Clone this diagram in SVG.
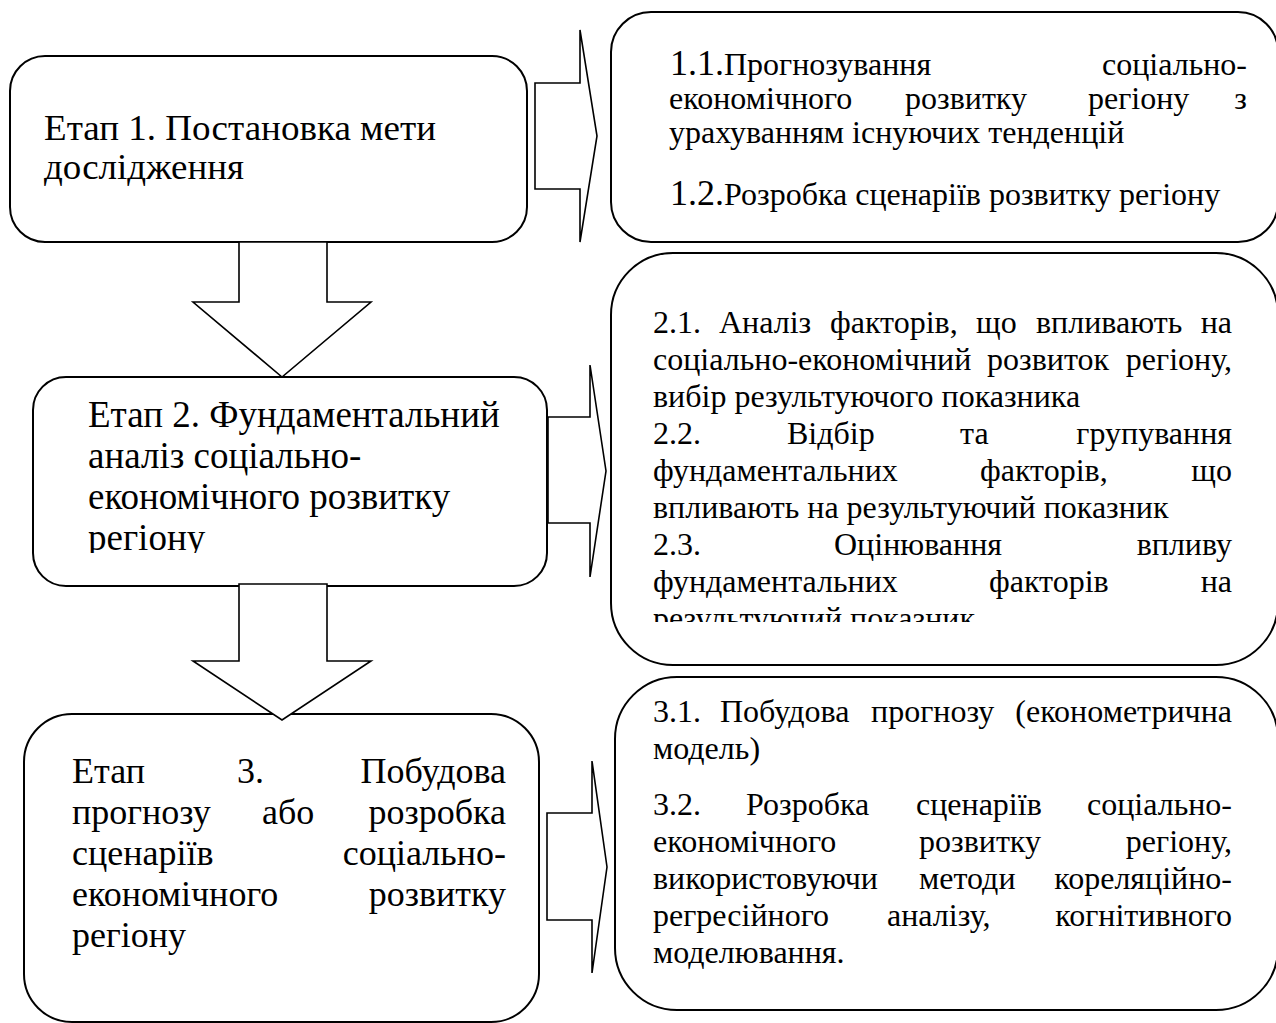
<svg xmlns="http://www.w3.org/2000/svg" width="1276" height="1023" viewBox="0 0 1276 1023">
<style>
.box{fill:#fff;stroke:#000;stroke-width:2}
.arr{fill:#fff;stroke:#000;stroke-width:1.6;stroke-linejoin:miter}
text{font-family:"Liberation Serif","Times New Roman",serif;fill:#000}
.l{font-size:36px}
.l2{font-size:37px}
.r{font-size:32px}
.r1{font-size:32px}
.pre{font-size:36px}
.e{text-anchor:end}
</style>
<defs>
<clipPath id="clipL2"><rect x="33" y="378" width="514" height="175"/></clipPath>
<clipPath id="clipR2"><rect x="611" y="254" width="665" height="368"/></clipPath>
</defs>
<rect width="1276" height="1023" fill="#fff"/>

<g id="stage1">
<rect class="box" x="10" y="56" width="517" height="186" rx="35" ry="35"/>
<text class="l" x="44" y="140" textLength="392" lengthAdjust="spacingAndGlyphs">Етап 1. Постановка мети</text>
<text class="l" x="44" y="179" textLength="200" lengthAdjust="spacingAndGlyphs">дослідження</text>
</g>

<g id="details1">
<rect class="box" x="611" y="12" width="667" height="230" rx="40" ry="40"/>
<text class="r1" x="670" y="75"><tspan class="pre">1.1.</tspan>Прогнозування</text>
<text class="r1 e" x="1247" y="75">соціально-</text>
<text class="r1" x="669" y="109">економічного</text>
<text class="r1" x="905" y="109">розвитку</text>
<text class="r1" x="1088" y="109">регіону</text>
<text class="r1 e" x="1247" y="109">з</text>
<text class="r1" x="669" y="143">урахуванням існуючих тенденцій</text>
<text class="r1" x="670" y="205"><tspan class="pre">1.2.</tspan>Розробка сценаріїв розвитку регіону</text>
</g>

<g id="stage2">
<rect class="box" x="33" y="377" width="514" height="209" rx="33" ry="33"/>
<g clip-path="url(#clipL2)">
<text class="l2" x="88" y="427">Етап 2. Фундаментальний</text>
<text class="l2" x="88" y="468">аналіз соціально-</text>
<text class="l2" x="88" y="509">економічного розвитку</text>
<text class="l2" x="88" y="550">регіону</text>
</g>
</g>

<g id="details2">
<rect class="box" x="611" y="253" width="667" height="412" rx="62" ry="62"/>
<g clip-path="url(#clipR2)">
<text class="r" x="653" y="333">2.1.</text>
<text class="r" x="719" y="333">Аналіз</text>
<text class="r" x="830" y="333">факторів,</text>
<text class="r" x="976" y="333">що</text>
<text class="r" x="1036" y="333">впливають</text>
<text class="r e" x="1232" y="333">на</text>
<text class="r" x="653" y="370">соціально-економічний</text>
<text class="r" x="987" y="370">розвиток</text>
<text class="r e" x="1232" y="370">регіону,</text>
<text class="r" x="653" y="407">вибір результуючого показника</text>
<text class="r" x="653" y="444">2.2.</text>
<text class="r" x="787" y="444">Відбір</text>
<text class="r" x="960" y="444">та</text>
<text class="r e" x="1232" y="444">групування</text>
<text class="r" x="653" y="481">фундаментальних</text>
<text class="r" x="980" y="481">факторів,</text>
<text class="r e" x="1232" y="481">що</text>
<text class="r" x="653" y="518">впливають на результуючий показник</text>
<text class="r" x="653" y="555">2.3.</text>
<text class="r" x="834" y="555">Оцінювання</text>
<text class="r e" x="1232" y="555">впливу</text>
<text class="r" x="653" y="592">фундаментальних</text>
<text class="r" x="989" y="592">факторів</text>
<text class="r e" x="1232" y="592">на</text>
<text class="r" x="653" y="629">результуючий показник</text>
</g>
</g>

<g id="stage3">
<rect class="box" x="24" y="714" width="515" height="308" rx="48" ry="48"/>
<text class="l" x="72" y="783">Етап</text>
<text class="l" x="237" y="783">3.</text>
<text class="l e" x="506" y="783">Побудова</text>
<text class="l" x="72" y="824">прогнозу</text>
<text class="l" x="262" y="824">або</text>
<text class="l e" x="506" y="824">розробка</text>
<text class="l" x="72" y="865">сценаріїв</text>
<text class="l e" x="506" y="865">соціально-</text>
<text class="l" x="72" y="906">економічного</text>
<text class="l e" x="506" y="906">розвитку</text>
<text class="l" x="72" y="947">регіону</text>
</g>

<g id="details3">
<rect class="box" x="615" y="677" width="663" height="333" rx="62" ry="62"/>
<text class="r" x="653" y="722">3.1.</text>
<text class="r" x="720" y="722">Побудова</text>
<text class="r" x="871" y="722">прогнозу</text>
<text class="r e" x="1232" y="722">(економетрична</text>
<text class="r" x="653" y="759">модель)</text>
<text class="r" x="653" y="815">3.2.</text>
<text class="r" x="746" y="815">Розробка</text>
<text class="r" x="916" y="815">сценаріїв</text>
<text class="r e" x="1232" y="815">соціально-</text>
<text class="r" x="653" y="852">економічного</text>
<text class="r" x="919" y="852">розвитку</text>
<text class="r e" x="1232" y="852">регіону,</text>
<text class="r" x="653" y="889">використовуючи</text>
<text class="r" x="919" y="889">методи</text>
<text class="r e" x="1232" y="889">кореляційно-</text>
<text class="r" x="653" y="926">регресійного</text>
<text class="r" x="887" y="926">аналізу,</text>
<text class="r e" x="1232" y="926">когнітивного</text>
<text class="r" x="653" y="963">моделювання.</text>
</g>

<g id="connectors">
<polygon class="arr" points="239,242 327,242 327,302 371,302 282,377 193,302 239,302"/>
<polygon class="arr" points="239,584 327,584 327,661 371,661 282,720 193,661 239,661"/>
<polygon class="arr" points="535,83 580,83 580,30 597,136 580,242 580,189 535,189"/>
<polygon class="arr" points="548,417 590,417 590,365 606,471 590,577 590,523 548,523"/>
<polygon class="arr" points="547,813 592,813 592,761 607,867 592,973 592,920 547,920"/>
</g>
</svg>
